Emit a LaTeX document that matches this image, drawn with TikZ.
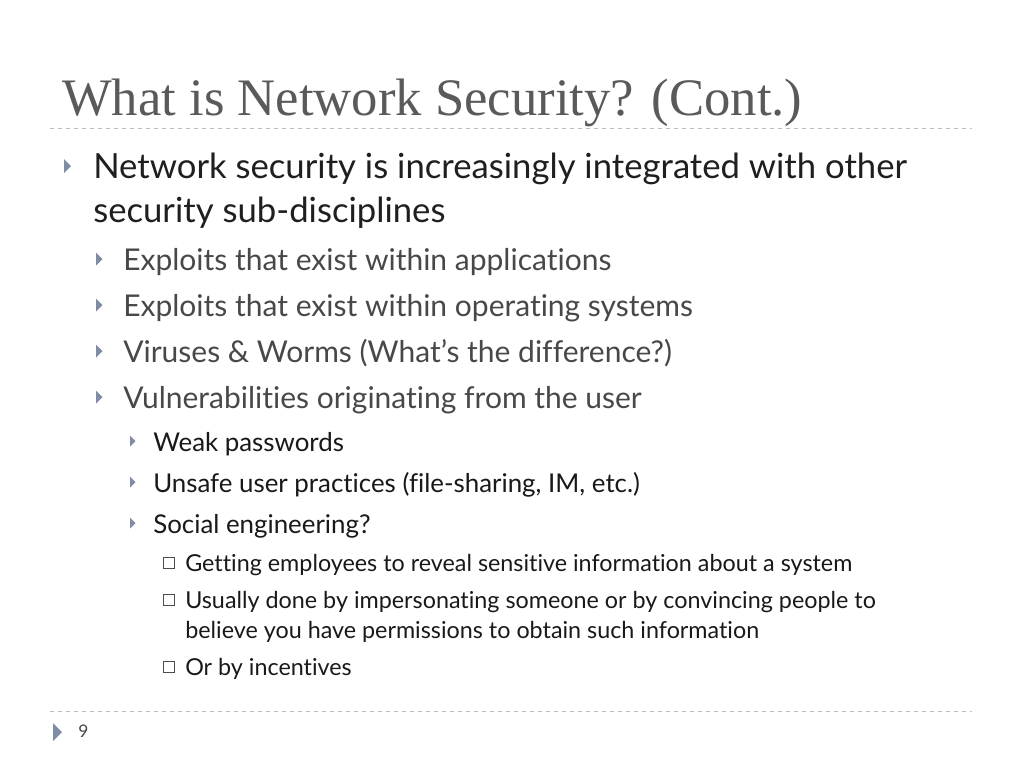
\documentclass[tikz,border=0pt]{standalone}
\usepackage{fontspec}
\setmainfont{Lato}[Ligatures=NoCommon]
\newfontfamily\titlefont{Liberation Serif}
\usepackage{xcolor}
\definecolor{bulletblue}{RGB}{128,140,166}
\definecolor{titlegray}{RGB}{90,90,90}
\definecolor{bodygray}{RGB}{72,72,72}
\tikzset{
  lvlone/.style={anchor=base west,inner sep=0pt,font=\fontsize{26}{30}\selectfont,text=black!88},
  lvltwo/.style={anchor=base west,inner sep=0pt,font=\fontsize{22.5}{26}\selectfont,text=bodygray},
  lvlthree/.style={anchor=base west,inner sep=0pt,font=\fontsize{19.4}{22}\selectfont,text=black!90},
  lvlfour/.style={anchor=base west,inner sep=0pt,font=\fontsize{17.5}{20}\selectfont,text=black!90},
  rule/.style={draw=black!25,dashed,line width=0.6pt}
}
\newcommand{\tri}[3]{\fill[bulletblue] (#1,#2-#3) -- (#1+#3,#2) -- (#1,#2+#3) -- cycle;}
\newcommand{\sqb}[2]{\draw[black!70,line width=0.5pt] (#1,#2-5.5) rectangle (#1+11,#2+5.5);}

\begin{document}
\begin{tikzpicture}[x=0.75pt,y=0.75pt,yscale=-1,xscale=1]
\fill[white] (0,0) rectangle (1024,768);
\useasboundingbox (0,0) rectangle (1024,768);

% title and rules
\node[anchor=base west,inner sep=0pt,font=\titlefont\fontsize{39.5}{44}\selectfont,text=titlegray] (title) at (62,115) {What is Network Security? (Cont.)};
\draw[rule] (50,128) -- (972,128);
\draw[rule] (50,711) -- (972,711);

% level one
\tri{64}{166}{7}
\node[lvlone] (netsec) at (93,178) {Network security is increasingly integrated with other};
\node[lvlone] (subdisc) at (93,222) {security sub-disciplines};

% level two
\tri{96}{259}{6.5}
\node[lvltwo] (apps) at (123,270) {Exploits that exist within applications};
\tri{96}{305}{6.5}
\node[lvltwo] (os) at (123,316) {Exploits that exist within operating systems};
\tri{96}{351}{6.5}
\node[lvltwo] (virus) at (123,362) {Viruses \& Worms (What’s the difference?)};
\tri{96}{397}{6.5}
\node[lvltwo] (vuln) at (123,408) {Vulnerabilities originating from the user};

% level three
\tri{130}{441}{5.5}
\node[lvlthree] (weak) at (153,451) {Weak passwords};
\tri{130}{482}{5.5}
\node[lvlthree] (unsafe) at (153,492) {Unsafe user practices (file-sharing, IM, etc.)};
\tri{130}{523}{5.5}
\node[lvlthree] (social) at (153,533) {Social engineering?};

% level four
\sqb{163}{563}
\node[lvlfour] (reveal) at (185,571) {Getting employees to reveal sensitive information about a system};
\sqb{163}{600}
\node[lvlfour] (imperson) at (185,608) {Usually done by impersonating someone or by convincing people to};
\node[lvlfour] (believe) at (185,638) {believe you have permissions to obtain such information};
\sqb{163}{667}
\node[lvlfour] (incent) at (185,675) {Or by incentives};

% footer
\tri{53}{732}{9}
\node[anchor=base west,inner sep=0pt,font=\fontsize{13}{15}\selectfont,text=bodygray] (pagenum) at (78,737) {9};
\end{tikzpicture}
\end{document}
